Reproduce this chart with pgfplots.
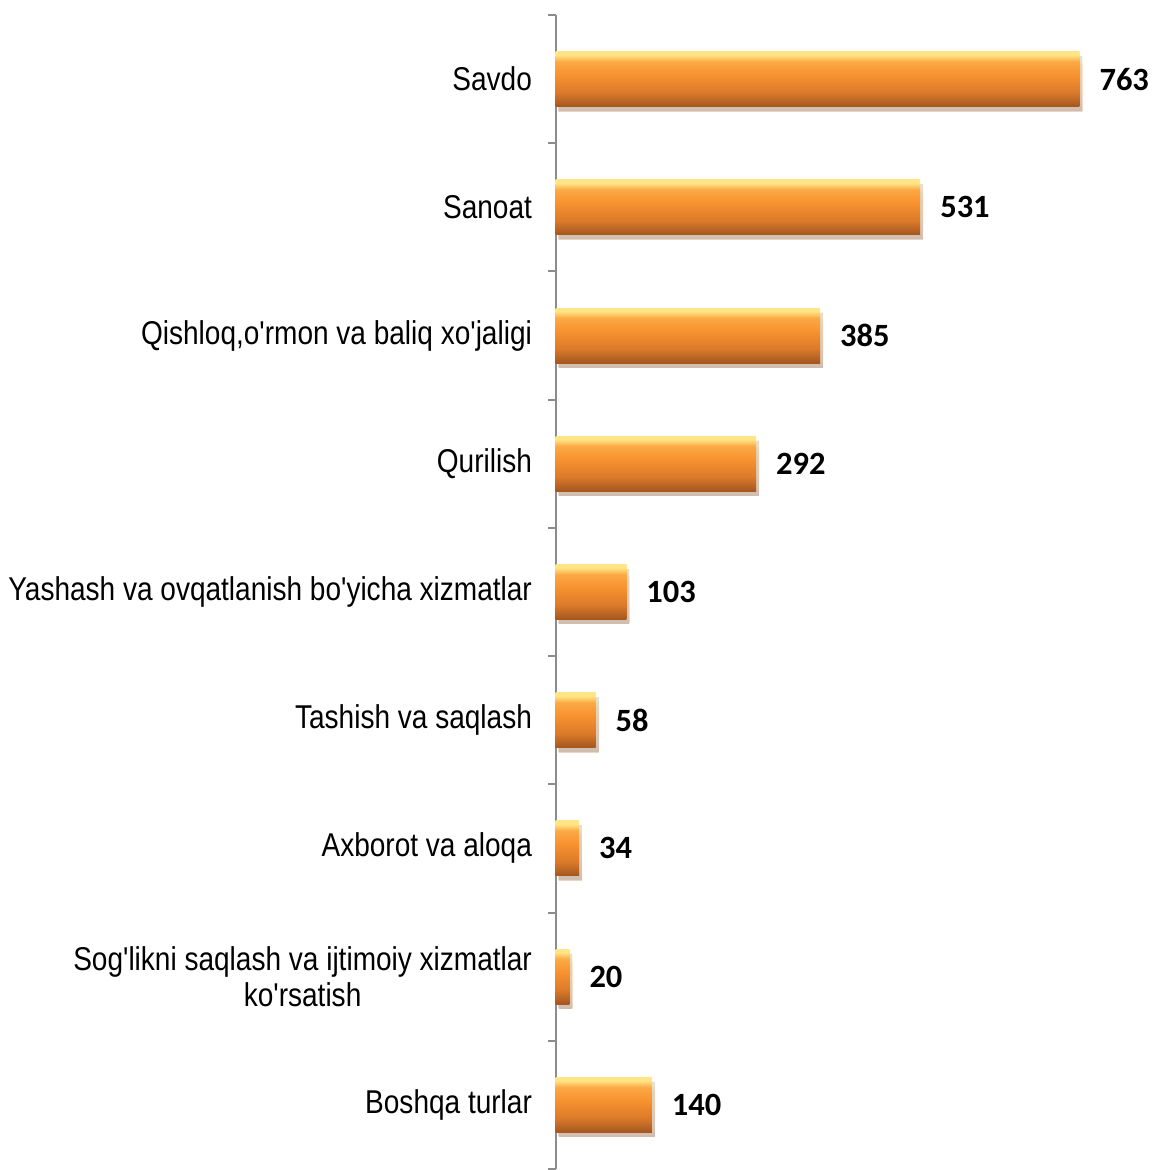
\documentclass[border=0pt]{standalone}
\usepackage{fontspec}
\setmainfont{Liberation Sans}[FakeStretch=0.85, Ligatures=TeXOff]
\newfontfamily\valfont{Carlito}
\usepackage{pgfplots}
\pgfplotsset{compat=1.18}
\usetikzlibrary{shadows}
\definecolor{barTop}{HTML}{FFE585}
\definecolor{barLight}{HTML}{FBA945}
\definecolor{barMid}{HTML}{F7922F}
\definecolor{barMid2}{HTML}{DB7A2A}
\definecolor{barBot}{HTML}{A35620}
\definecolor{axgray}{HTML}{8C8C8C}
\pgfdeclareverticalshading{barshade}{100bp}{color(0bp)=(barBot); color(25bp)=(barBot); color(38bp)=(barMid2); color(54bp)=(barMid); color(66bp)=(barLight); color(72bp)=(barTop); color(75bp)=(barTop); color(100bp)=(barTop)}
\pgfplotsset{mybar/.style={draw=none, shading=barshade,
  drop shadow={opacity=0.25, shadow xshift=1.2pt, shadow yshift=-1.8pt}}}
\begin{document}
\begin{tikzpicture}
\begin{axis}[
  xbar, bar width=22pt, bar shift=0pt,
  scale only axis, width=233.6pt, height=462pt,
  xmin=0, xmax=850, ymin=-0.5, ymax=8.5, y dir=reverse,
  axis x line=none, axis y line*=left,
  y axis line style={axgray, line width=0.8pt},
  ytick={0,...,8},
  yticklabels={Savdo, Sanoat, {Qishloq,o'rmon va baliq xo'jaligi}, Qurilish, Yashash va ovqatlanish bo'yicha xizmatlar, Tashish va saqlash, Axborot va aloqa, {Sog'likni saqlash va ijtimoiy xizmatlar\\ko'rsatish}, Boshqa turlar},
  yticklabel style={font=\fontsize{13.2}{14.5}\selectfont, align=center, xshift=-6pt},
  major tick length=0pt,
  minor ytick={-0.5,0.5,...,8.5},
  minor tick length=3pt,
  tick align=outside,
  minor tick style={axgray, line width=0.8pt},
  clip=false,
  /pgf/number format/assume math mode=true,
  nodes near coords,
  point meta=x,
  nodes near coords style={font=\valfont\bfseries\fontsize{13}{15}\selectfont, anchor=west, xshift=4.5pt, text=black},
]
\addplot[mybar] coordinates {(763,0)};
\addplot[mybar] coordinates {(531,1)};
\addplot[mybar] coordinates {(385,2)};
\addplot[mybar] coordinates {(292,3)};
\addplot[mybar] coordinates {(103,4)};
\addplot[mybar] coordinates {(58,5)};
\addplot[mybar] coordinates {(34,6)};
\addplot[mybar] coordinates {(20,7)};
\addplot[mybar] coordinates {(140,8)};
\end{axis}
\path ([yshift=6pt]current axis.north);
\end{tikzpicture}
\end{document}
